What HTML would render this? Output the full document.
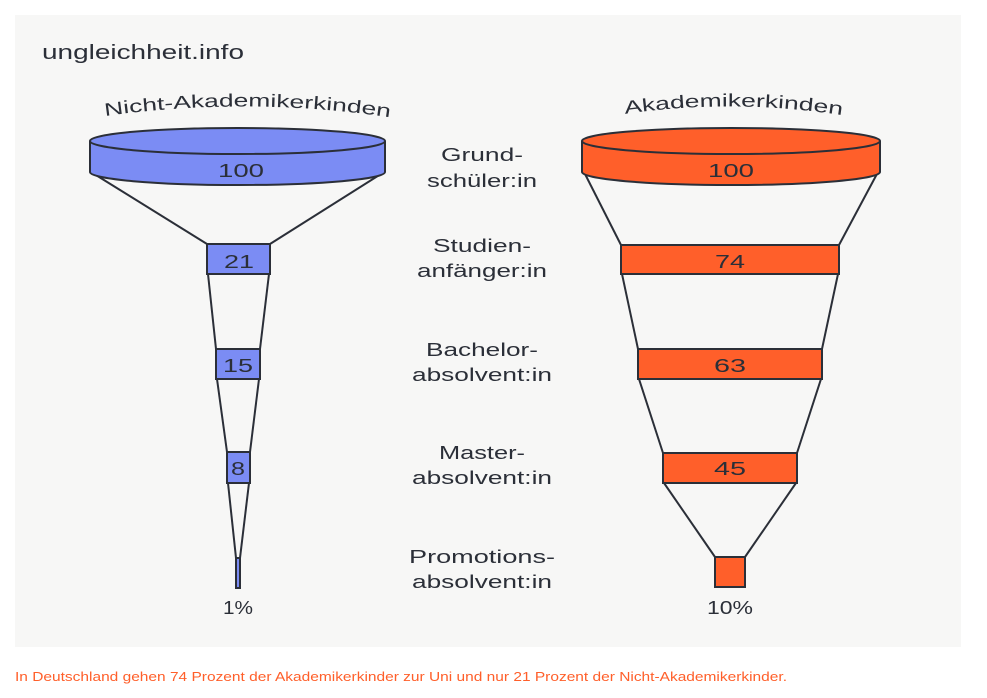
<!DOCTYPE html>
<html><head><meta charset="utf-8"><style>
html,body{margin:0;padding:0;background:#fff;}
body{width:987px;height:698px;overflow:hidden;position:relative;font-family:"Liberation Sans",sans-serif;}
</style></head><body>
<svg width="987" height="698" viewBox="0 0 987 698" xmlns="http://www.w3.org/2000/svg" style="position:absolute;left:0;top:0">
<rect x="15" y="15" width="946" height="632" fill="#f7f7f6"/>
<g font-family="Liberation Sans, sans-serif" fill="#2b2f38">
<text x="42" y="59" font-size="20" textLength="202" lengthAdjust="spacingAndGlyphs">ungleichheit.info</text>
<defs>
<path id="arcL" d="M105,116 Q250,96 395,118"/>
<path id="arcR" d="M625,114 Q735,98 848,116"/>
</defs>
<text font-size="18"><textPath href="#arcL" textLength="286" lengthAdjust="spacingAndGlyphs">Nicht-Akademikerkinden</textPath></text>
<text font-size="18"><textPath href="#arcR" textLength="218" lengthAdjust="spacingAndGlyphs">Akademikerkinden</textPath></text>
</g>
<g stroke="#2b2f38" stroke-width="2">
<line x1="91" y1="172" x2="207" y2="244"/><line x1="384" y1="172" x2="270" y2="244"/>
<line x1="208" y1="274" x2="216" y2="349"/><line x1="269" y1="274" x2="260" y2="349"/>
<line x1="217" y1="379" x2="227" y2="452"/><line x1="259" y1="379" x2="250" y2="452"/>
<line x1="228" y1="483" x2="236" y2="558"/><line x1="249" y1="483" x2="240" y2="558"/>
<path d="M90,141 V172 A147.5,13 0 0 0 385,172 V141" fill="#7b8cf4"/>
<ellipse cx="237.5" cy="141" rx="147.5" ry="13" fill="#7b8cf4"/>
<rect x="207" y="244" width="63" height="30" fill="#7b8cf4"/>
<rect x="216" y="349" width="44" height="30" fill="#7b8cf4"/>
<rect x="227" y="452" width="23" height="31" fill="#7b8cf4"/>
<rect x="236" y="558" width="4" height="30" fill="#7b8cf4"/>
<line x1="584" y1="172" x2="621" y2="245"/><line x1="878" y1="172" x2="839" y2="245"/>
<line x1="622" y1="274" x2="638" y2="349"/><line x1="838" y1="274" x2="822" y2="349"/>
<line x1="639" y1="379" x2="663" y2="453"/><line x1="821" y1="379" x2="797" y2="453"/>
<line x1="664" y1="483" x2="715" y2="557"/><line x1="796" y1="483" x2="745" y2="557"/>
<path d="M582,141 V172 A149,13 0 0 0 880,172 V141" fill="#ff5f2a"/>
<ellipse cx="731" cy="141" rx="149" ry="13" fill="#ff5f2a"/>
<rect x="621" y="245" width="218" height="29" fill="#ff5f2a"/>
<rect x="638" y="349" width="184" height="30" fill="#ff5f2a"/>
<rect x="663" y="453" width="134" height="30" fill="#ff5f2a"/>
<rect x="715" y="557" width="30" height="30" fill="#ff5f2a"/>
</g>
<g font-family="Liberation Sans, sans-serif" fill="#2b2f38" font-size="18" text-anchor="middle">
<text x="241" y="177" textLength="46" lengthAdjust="spacingAndGlyphs">100</text>
<text x="239" y="268" textLength="30" lengthAdjust="spacingAndGlyphs">21</text>
<text x="238" y="372" textLength="30" lengthAdjust="spacingAndGlyphs">15</text>
<text x="238" y="475" textLength="14" lengthAdjust="spacingAndGlyphs">8</text>
<text x="238" y="614" textLength="30" lengthAdjust="spacingAndGlyphs">1%</text>
<text x="731" y="177" textLength="46" lengthAdjust="spacingAndGlyphs">100</text>
<text x="730" y="268" textLength="30" lengthAdjust="spacingAndGlyphs">74</text>
<text x="730" y="372" textLength="32" lengthAdjust="spacingAndGlyphs">63</text>
<text x="730" y="475" textLength="32" lengthAdjust="spacingAndGlyphs">45</text>
<text x="730" y="614" textLength="46" lengthAdjust="spacingAndGlyphs">10%</text>
<text x="482" y="161" textLength="82" lengthAdjust="spacingAndGlyphs">Grund-</text>
<text x="482" y="187" textLength="110" lengthAdjust="spacingAndGlyphs">schüler:in</text>
<text x="482" y="252" textLength="98" lengthAdjust="spacingAndGlyphs">Studien-</text>
<text x="482" y="277" textLength="130" lengthAdjust="spacingAndGlyphs">anfänger:in</text>
<text x="482" y="356" textLength="112" lengthAdjust="spacingAndGlyphs">Bachelor-</text>
<text x="482" y="381" textLength="140" lengthAdjust="spacingAndGlyphs">absolvent:in</text>
<text x="482" y="459" textLength="86" lengthAdjust="spacingAndGlyphs">Master-</text>
<text x="482" y="484" textLength="140" lengthAdjust="spacingAndGlyphs">absolvent:in</text>
<text x="482" y="563" textLength="146" lengthAdjust="spacingAndGlyphs">Promotions-</text>
<text x="482" y="588" textLength="140" lengthAdjust="spacingAndGlyphs">absolvent:in</text>
</g>
<text x="15" y="681" font-family="Liberation Sans, sans-serif" font-size="13" fill="#ff5f2a" textLength="772" lengthAdjust="spacingAndGlyphs">In Deutschland gehen 74 Prozent der Akademikerkinder zur Uni und nur 21 Prozent der Nicht-Akademikerkinder.</text>
</svg>
</body></html>
